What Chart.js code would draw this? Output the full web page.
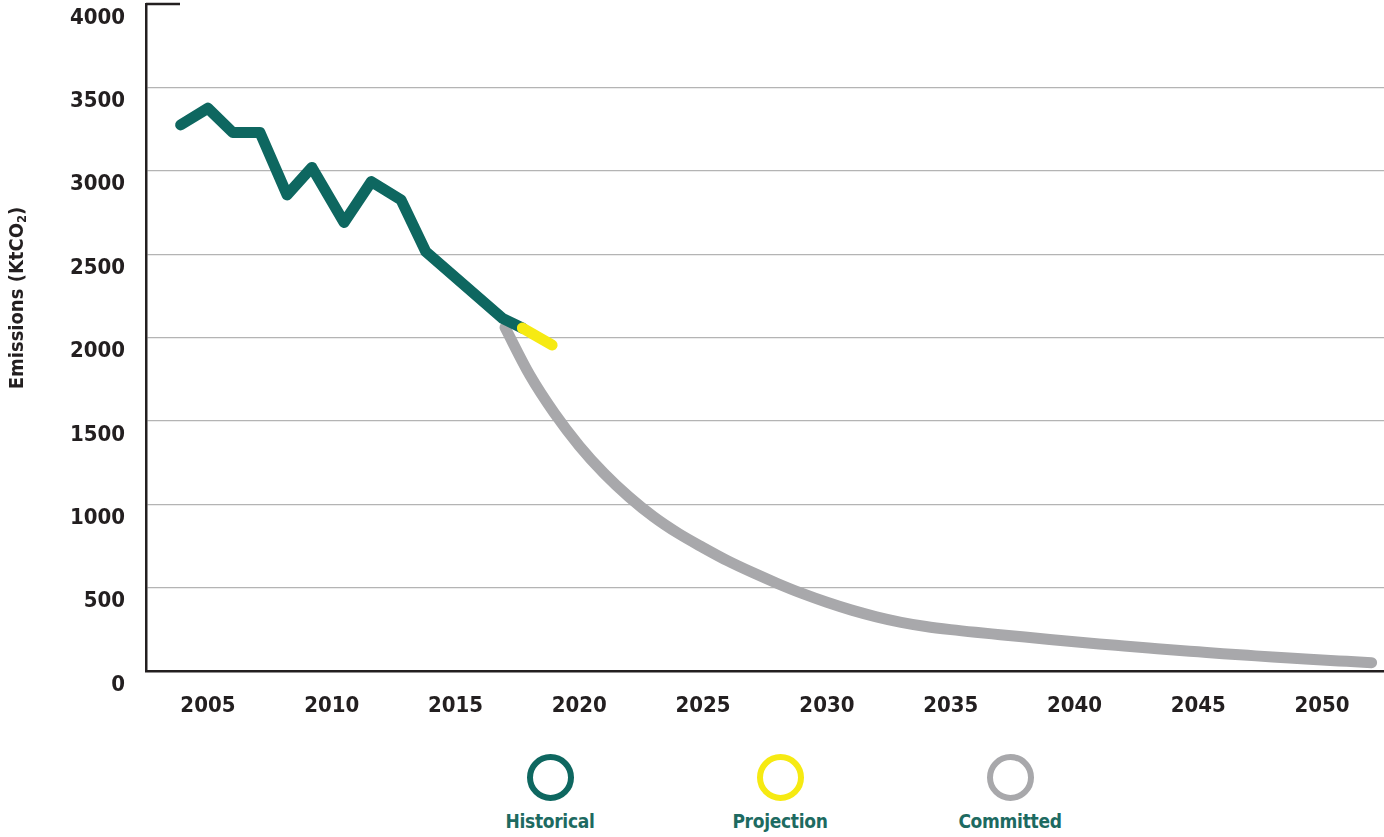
<!DOCTYPE html>
<html>
<head>
<meta charset="utf-8">
<title>Emissions</title>
<script src="https://cdn.jsdelivr.net/npm/chart.js@4.4.1/dist/chart.umd.min.js"></script>
<style>
    body { margin: 0; background: #fff; }
    #wrap { position: relative; width: 1384px; height: 837px; overflow: hidden; }
    #chart_emissions { position: absolute; left: 0; top: 0; }
    #legend { position: absolute; left: 435px; top: 754px; display: flex; }
    #legend .item { width: 230px; text-align: center; }
    #legend .ring { width: 35px; height: 35px; border: 6.5px solid; border-radius: 50%; margin: 0 auto; }
    #legend .label {
        margin-top: 8px;
        font: bold 19px/24px "DejaVu Sans Condensed", "Liberation Sans Narrow", sans-serif;
        color: #1d6a61;
        letter-spacing: -0.3px;
    }
</style>
</head>
<body>
<div id="wrap">
    <canvas id="chart_emissions" width="1384" height="731"></canvas>
    <div id="legend"></div>
</div>
<script>
// values (KtCO2)
var historicalYears = [2003.9, 2005.0, 2006.0, 2007.1, 2008.2, 2009.2, 2010.5, 2011.6, 2012.8, 2013.8, 2016.9, 2017.7];
var historicalValues = [3275, 3375, 3230, 3230, 2855, 3020, 2690, 2935, 2825, 2515, 2115, 2057];

var projectionYears = [2017.7, 2018.9];
var projectionValues = [2057, 1955];

var committedYears = [2017, 2018, 2019, 2020, 2021, 2022, 2023, 2024, 2025, 2026, 2027, 2028,
    2029, 2030, 2031, 2032, 2033, 2034, 2035, 2036, 2037, 2038, 2039, 2040,
    2041, 2042, 2043, 2044, 2045, 2046, 2047, 2048, 2049, 2050, 2051, 2052];
var committedValues = [2060, 1775, 1545, 1350, 1185, 1045, 925, 825, 740, 660, 590, 525,
    465, 412, 365, 325, 292, 267, 248, 232, 218, 204, 189, 175,
    162, 150, 138, 126, 115, 104, 94, 84, 75, 66, 58, 50];

var yearTicks = [2005, 2010, 2015, 2020, 2025, 2030, 2035, 2040, 2045, 2050];
var emissionTicks = [0, 500, 1000, 1500, 2000, 2500, 3000, 3500, 4000];

var narrow = '"DejaVu Sans Condensed", "Liberation Sans Narrow", sans-serif';
var inkColor = '#231f20';

function toPoints(xs, ys) {
    return xs.map(function (x, i) { return { x: x, y: ys[i] }; });
}

// small stub at the top of the y axis and the rotated axis title
var decorPlugin = {
    id: 'decor',
    afterDraw: function (chart) {
        var ctx = chart.ctx;
        var area = chart.chartArea;
        var yTop = chart.scales.y.getPixelForValue(4000);
        ctx.save();
        ctx.strokeStyle = inkColor;
        ctx.lineWidth = 2.5;
        ctx.beginPath();
        ctx.moveTo(area.left, yTop);
        ctx.lineTo(area.left + 34, yTop);
        ctx.stroke();

        var main = 'Emissions (KtCO';
        ctx.font = 'bold 20px ' + narrow;
        var w1 = ctx.measureText(main).width;
        ctx.font = 'bold 13px ' + narrow;
        var w2 = ctx.measureText('2').width;
        ctx.font = 'bold 20px ' + narrow;
        var w3 = ctx.measureText(')').width;
        var total = w1 + w2 + w3;
        ctx.translate(18, 298);
        ctx.rotate(-Math.PI / 2);
        ctx.fillStyle = inkColor;
        ctx.textBaseline = 'middle';
        ctx.textAlign = 'left';
        var x0 = -total / 2;
        ctx.fillText(main, x0, 0);
        ctx.font = 'bold 13px ' + narrow;
        ctx.fillText('2', x0 + w1, 5);
        ctx.font = 'bold 20px ' + narrow;
        ctx.fillText(')', x0 + w1 + w2, 0);
        ctx.restore();
    }
};

var ctx = document.getElementById('chart_emissions').getContext('2d');
var lineStyle = {
    borderWidth: 11,
    borderCapStyle: 'round',
    borderJoinStyle: 'round',
    pointRadius: 0,
    fill: false
};

var emissionsChart = new Chart(ctx, {
    type: 'line',
    data: {
        datasets: [
            Object.assign({
                label: 'Historical',
                data: toPoints(historicalYears, historicalValues),
                borderColor: '#0e6760',
                tension: 0,
                order: 1
            }, lineStyle),
            Object.assign({
                label: 'Projection',
                data: toPoints(projectionYears, projectionValues),
                borderColor: '#f6ea12',
                tension: 0,
                order: 0
            }, lineStyle),
            Object.assign({
                label: 'Committed',
                data: toPoints(committedYears, committedValues),
                borderColor: '#a8a8ab',
                cubicInterpolationMode: 'monotone',
                order: 2
            }, lineStyle)
        ]
    },
    options: {
        responsive: false,
        animation: false,
        layout: { padding: { top: 4, left: 0, right: 0, bottom: 0 } },
        plugins: {
            legend: { display: false },
            tooltip: { enabled: false }
        },
        scales: {
            x: {
                type: 'linear',
                min: 2002.5,
                max: 2052.5,
                afterBuildTicks: function (s) {
                    s.ticks = yearTicks.map(function (v) { return { value: v }; });
                },
                afterFit: function (s) {
                    s.height = 60;
                    s.paddingLeft = 0;
                    s.paddingRight = 0;
                },
                grid: { display: false, drawTicks: false },
                border: { display: true, color: inkColor, width: 2.5 },
                ticks: {
                    padding: 22,
                    color: inkColor,
                    font: { family: narrow, size: 22, weight: 'bold' },
                    callback: function (v) { return String(v); }
                }
            },
            y: {
                min: 0,
                max: 4000,
                afterBuildTicks: function (s) {
                    s.ticks = emissionTicks.map(function (v) { return { value: v }; });
                },
                afterFit: function (s) {
                    s.width = 146;
                    s.paddingTop = 0;
                    s.paddingBottom = 0;
                },
                grid: {
                    drawTicks: false,
                    lineWidth: 1.2,
                    color: function (c) {
                        var v = c.tick ? c.tick.value : 0;
                        return (v === 0 || v === 4000) ? 'rgba(0,0,0,0)' : '#b4b4b4';
                    }
                },
                border: { display: true, color: inkColor, width: 2.5 },
                ticks: {
                    padding: 21,
                    labelOffset: 14,
                    color: inkColor,
                    font: { family: narrow, size: 22, weight: 'bold' },
                    callback: function (v) { return String(v); }
                }
            }
        }
    },
    plugins: [decorPlugin]
});

// html legend: ring above the label, as in the report
var legendEl = document.getElementById('legend');
['Historical', 'Projection', 'Committed'].forEach(function (name) {
    var ds = emissionsChart.data.datasets.filter(function (d) { return d.label === name; })[0];
    var item = document.createElement('div');
    item.className = 'item';
    var ring = document.createElement('div');
    ring.className = 'ring';
    ring.style.borderColor = ds.borderColor;
    var label = document.createElement('div');
    label.className = 'label';
    label.textContent = ds.label;
    item.appendChild(ring);
    item.appendChild(label);
    legendEl.appendChild(item);
});
</script>
</body>
</html>
